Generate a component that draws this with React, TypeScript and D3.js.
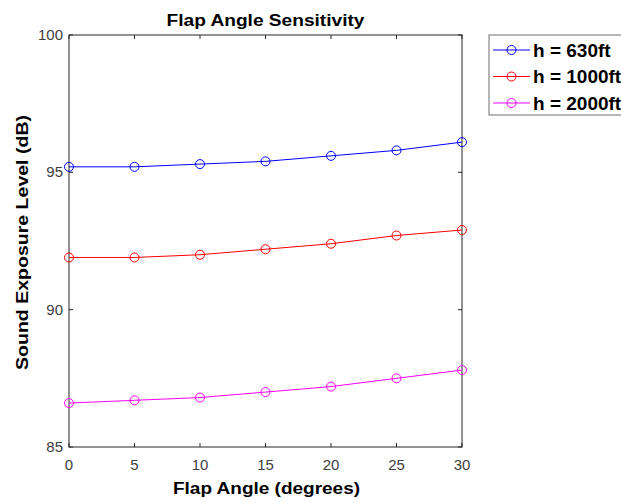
import React from "react";
import * as d3 from "d3";

const angles = [0, 5, 10, 15, 20, 25, 30];
const h630 = [95.2, 95.2, 95.3, 95.4, 95.6, 95.8, 96.1];
const h1000 = [91.9, 91.9, 92.0, 92.2, 92.4, 92.7, 92.9];
const h2000 = [86.6, 86.7, 86.8, 87.0, 87.2, 87.5, 87.8];
const seriesNames = ["h = 630ft", "h = 1000ft", "h = 2000ft"];
const seriesColors = ["#0000ff", "#ff0000", "#ff00ff"];
const xTicks = [0, 5, 10, 15, 20, 25, 30];
const yTicks = [85, 90, 95, 100];

export default function App() {
  const W = 621, H = 502;
  const L = 69, R = 462, T = 35, B = 447;
  const x = d3.scaleLinear().domain([0, 30]).range([L, R]);
  const y = d3.scaleLinear().domain([85, 100]).range([B, T]);
  const series = [h630, h1000, h2000];
  const line = d3.line<number>().x((_, i) => x(angles[i])).y((d) => y(d));
  const axisColor = "#262626";
  const font = "Liberation Sans, Arial, Helvetica, sans-serif";
  const tl = 4;
  return (
    <svg width={W} height={H} style={{ position: "absolute", left: 0, top: 0, background: "#fff" }}>
      <rect x={0} y={0} width={W} height={H} fill="#fff" />
      <rect x={L} y={T} width={R - L} height={B - T} fill="none" stroke={axisColor} strokeWidth={1} />
      {xTicks.map((t) => (
        <g key={"xt" + t}>
          <line x1={x(t)} x2={x(t)} y1={B} y2={B - tl} stroke={axisColor} />
          <line x1={x(t)} x2={x(t)} y1={T} y2={T + tl} stroke={axisColor} />
          <text x={x(t)} y={470} textAnchor="middle" fontFamily={font} fontSize={15} fill="#404040">{t}</text>
        </g>
      ))}
      {yTicks.map((t) => (
        <g key={"yt" + t}>
          <line x1={L} x2={L + tl} y1={y(t)} y2={y(t)} stroke={axisColor} />
          <line x1={R} x2={R - tl} y1={y(t)} y2={y(t)} stroke={axisColor} />
          <text x={63} y={y(t) + 5} textAnchor="end" fontFamily={font} fontSize={15} fill="#404040">{t}</text>
        </g>
      ))}
      {series.map((s, si) => (
        <g key={"s" + si}>
          <path d={line(s) || ""} fill="none" stroke={seriesColors[si]} strokeWidth={1} />
          {s.map((v, i) => (
            <circle key={i} cx={x(angles[i])} cy={y(v)} r={4.5} fill="none" stroke={seriesColors[si]} strokeWidth={1} />
          ))}
        </g>
      ))}
      <text x={(L + R) / 2} y={26} textAnchor="middle" fontFamily={font} fontWeight="bold" fontSize={16} textLength={198} lengthAdjust="spacingAndGlyphs" fill="#000">Flap Angle Sensitivity</text>
      <text x={(L + R) / 2 + 1} y={494} textAnchor="middle" fontFamily={font} fontWeight="bold" fontSize={16} textLength={187} lengthAdjust="spacingAndGlyphs" fill="#000">Flap Angle (degrees)</text>
      <text transform={`translate(28,242.5) rotate(-90)`} textAnchor="middle" fontFamily={font} fontWeight="bold" fontSize={16} textLength={255} lengthAdjust="spacingAndGlyphs" fill="#000">Sound Exposure Level (dB)</text>
      <rect x={489} y={35} width={140} height={80} fill="#fff" stroke="#6e6e6e" strokeWidth={1} />
      {seriesNames.map((n, i) => {
        const ly = 50 + i * 26.5;
        return (
          <g key={"lg" + i}>
            <line x1={493} x2={530} y1={ly} y2={ly} stroke={seriesColors[i]} strokeWidth={1} />
            <circle cx={511.5} cy={ly} r={4.5} fill="none" stroke={seriesColors[i]} strokeWidth={1} />
            <text x={533} y={ly + 6.5} fontFamily={font} fontWeight="bold" fontSize={19} fill="#000">{n}</text>
          </g>
        );
      })}
    </svg>
  );
}
